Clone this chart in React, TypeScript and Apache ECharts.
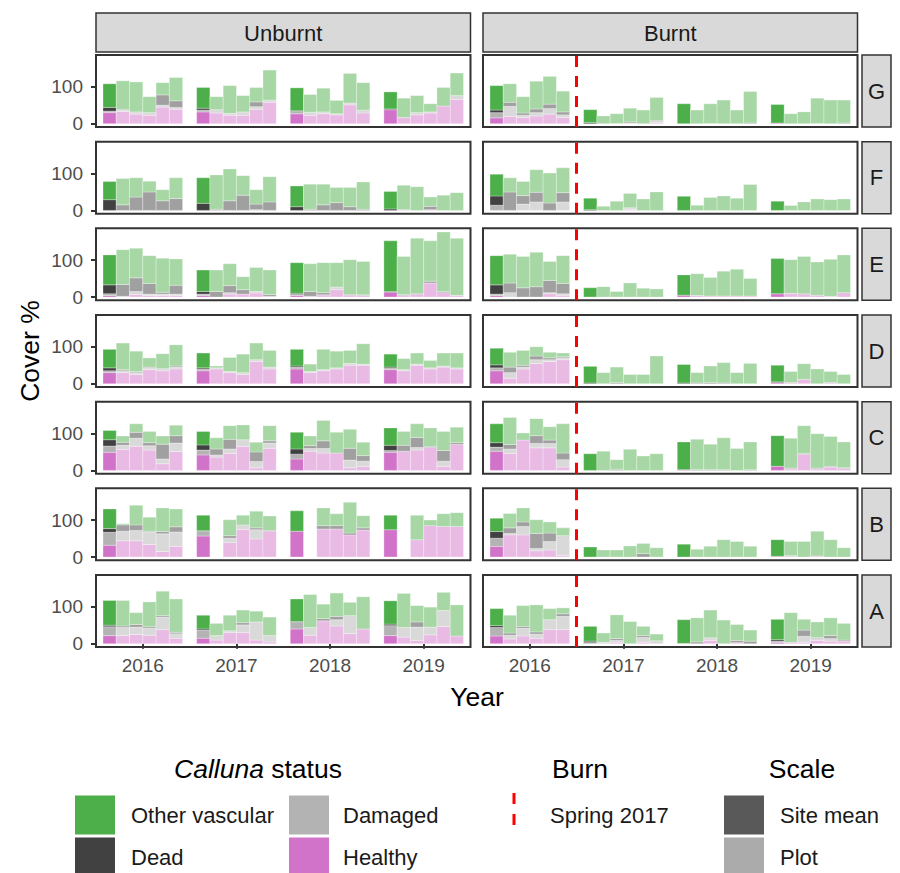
import React, { useEffect, useRef } from 'react';
import * as echarts from 'echarts';

const ROWS = ['G', 'F', 'E', 'D', 'C', 'B', 'A'];
const TREATMENTS = ['Unburnt', 'Burnt'];
const YEARS = [2016, 2017, 2018, 2019];
const Y_TICKS = [0, 100];
const BURN_X = 2016.5;
const BURN_LABEL = 'Spring 2017';
const STATUS = ['Healthy', 'Damaged', 'Dead', 'Other vascular'];

// Each bar: [healthy, damaged, dead, other vascular]; each year: 6 bars
// (site mean first, then 5 plots); null = no data for that plot.
const unburntG = [
  [[30, 4, 10, 64], [33, 4, 2, 77], [26, 6, 0, 81], [23, 7, 0, 43], [45, 5, 28, 33], [39, 5, 18, 63]],
  [[32, 5, 5, 56], [29, 9, 0, 35], [23, 5, 0, 75], [23, 9, 0, 44], [39, 7, 13, 39], [58, 6, 0, 81]],
  [[27, 6, 2, 62], [23, 8, 0, 48], [27, 5, 0, 64], [24, 3, 0, 36], [51, 5, 0, 80], [29, 8, 0, 74]],
  [[38, 0, 2, 46], [17, 0, 0, 52], [24, 6, 0, 46], [29, 3, 0, 22], [48, 0, 0, 50], [66, 10, 0, 61]],
];
const burntG = [
  [[16, 14, 7, 66], [20, 27, 11, 50], [17, 6, 6, 44], [21, 9, 10, 75], [26, 15, 12, 75], [17, 7, 8, 56]],
  [[0, 0, 3, 35], [0, 0, 0, 21], [0, 0, 1, 26], [0, 2, 3, 37], [0, 0, 0, 37], [3, 3, 3, 62]],
  [[0, 0, 0, 54], [0, 0, 0, 37], [0, 0, 1, 53], [0, 0, 0, 64], [0, 0, 0, 37], [0, 0, 2, 85]],
  [[2, 0, 0, 50], [0, 0, 0, 27], [0, 0, 0, 32], [0, 0, 1, 68], [0, 0, 0, 64], [0, 0, 2, 62]],
];
const unburntF = [
  [[0, 0, 29, 49], [0, 0, 15, 71], [0, 0, 36, 52], [0, 0, 50, 29], [0, 0, 26, 30], [0, 0, 32, 56]],
  [[0, 0, 19, 69], [0, 0, 3, 93], [0, 0, 26, 86], [0, 0, 41, 53], [2, 0, 15, 39], [0, 0, 23, 68]],
  [[0, 0, 10, 56], [0, 0, 3, 68], [0, 0, 15, 56], [0, 0, 21, 41], [0, 0, 10, 52], [0, 0, 3, 74]],
  [[0, 0, 4, 47], [2, 0, 0, 66], [0, 0, 0, 64], [2, 0, 9, 25], [0, 0, 0, 41], [0, 0, 0, 48]],
];
const burntF = [
  [[0, 14, 25, 59], [0, 0, 50, 38], [0, 17, 23, 38], [0, 23, 26, 61], [0, 0, 20, 81], [0, 23, 25, 67]],
  [[0, 0, 2, 31], [0, 0, 0, 11], [0, 0, 0, 25], [2, 5, 0, 39], [0, 0, 0, 31], [0, 0, 0, 50]],
  [[0, 0, 0, 38], [0, 0, 0, 14], [0, 0, 0, 35], [0, 0, 0, 39], [0, 0, 0, 33], [0, 0, 0, 70]],
  [[0, 0, 0, 25], [0, 0, 0, 13], [0, 0, 0, 23], [0, 0, 0, 31], [0, 0, 0, 29], [0, 0, 0, 31]],
];
const unburntE = [
  [[4, 5, 24, 81], [0, 2, 32, 94], [7, 8, 37, 80], [4, 4, 29, 75], [4, 4, 5, 92], [4, 4, 24, 71]],
  [[4, 4, 7, 58], [0, 0, 15, 58], [8, 4, 19, 59], [8, 0, 12, 35], [11, 4, 0, 65], [2, 0, 5, 66]],
  [[4, 3, 3, 83], [2, 0, 13, 75], [6, 0, 6, 81], [20, 7, 0, 66], [6, 0, 0, 95], [4, 0, 2, 90]],
  [[13, 0, 2, 137], [4, 0, 3, 103], [7, 0, 3, 149], [38, 0, 5, 109], [12, 0, 3, 161], [4, 0, 1, 154]],
];
const burntE = [
  [[4, 4, 25, 79], [0, 12, 26, 78], [0, 0, 25, 85], [0, 0, 28, 93], [9, 3, 33, 51], [5, 4, 28, 75]],
  [[0, 0, 0, 25], [0, 0, 0, 28], [0, 0, 0, 15], [0, 0, 0, 38], [0, 0, 0, 24], [0, 0, 0, 22]],
  [[5, 0, 0, 55], [4, 0, 0, 59], [3, 0, 0, 50], [3, 0, 0, 67], [3, 0, 0, 72], [3, 0, 0, 47]],
  [[9, 0, 0, 95], [10, 0, 0, 91], [7, 0, 3, 100], [5, 0, 0, 90], [2, 0, 0, 100], [12, 0, 0, 102]],
];
const unburntD = [
  [[30, 5, 8, 50], [30, 5, 3, 72], [25, 5, 3, 55], [38, 5, 2, 25], [35, 4, 2, 40], [40, 5, 3, 57]],
  [[35, 5, 3, 40], [40, 3, 0, 5], [30, 3, 0, 38], [25, 5, 0, 50], [60, 5, 0, 45], [40, 5, 0, 45]],
  [[40, 5, 3, 45], [30, 3, 0, 20], [35, 3, 0, 55], [40, 3, 0, 45], [50, 5, 0, 35], [50, 3, 0, 55]],
  [[38, 4, 3, 35], [35, 3, 0, 30], [50, 3, 0, 30], [40, 3, 0, 20], [45, 3, 0, 35], [40, 3, 0, 40]],
];
const burntD = [
  [[35, 8, 8, 45], [15, 15, 15, 40], [40, 5, 5, 40], [55, 10, 10, 25], [60, 5, 5, 15], [65, 5, 3, 10]],
  [[0, 0, 2, 45], [0, 0, 0, 30], [0, 0, 3, 42], [0, 0, 0, 25], [0, 0, 0, 25], [0, 0, 0, 75]],
  [[0, 0, 2, 50], [0, 0, 2, 28], [0, 0, 3, 45], [0, 0, 2, 55], [0, 0, 0, 30], [0, 0, 0, 55]],
  [[3, 0, 2, 45], [3, 0, 0, 30], [12, 0, 0, 42], [0, 0, 0, 40], [3, 0, 0, 30], [0, 0, 0, 25]],
];
const unburntC = [
  [[49, 17, 17, 25], [57, 11, 8, 17], [65, 22, 16, 23], [55, 12, 8, 30], [18, 13, 40, 22], [51, 23, 20, 28]],
  [[42, 13, 14, 36], [36, 6, 16, 30], [46, 12, 26, 37], [65, 18, 0, 40], [7, 17, 26, 26], [60, 14, 6, 41]],
  [[31, 13, 14, 45], [52, 7, 8, 26], [47, 12, 21, 55], [47, 0, 0, 56], [7, 21, 32, 51], [11, 14, 15, 36]],
  [[49, 5, 14, 47], [52, 0, 16, 37], [55, 7, 27, 37], [62, 0, 3, 50], [11, 14, 29, 51], [70, 0, 5, 42]],
];
const burntC = [
  [[52, 11, 12, 51], [46, 12, 12, 73], [82, 0, 0, 19], [61, 12, 21, 46], [61, 12, 9, 36], [9, 20, 18, 79]],
  [[0, 0, 0, 45], [0, 0, 0, 52], [0, 0, 3, 26], [0, 0, 0, 57], [0, 0, 0, 39], [0, 0, 0, 45]],
  [[2, 0, 0, 75], [0, 0, 2, 82], [0, 0, 2, 69], [0, 0, 2, 86], [0, 0, 0, 59], [0, 0, 2, 75]],
  [[11, 0, 0, 83], [4, 0, 2, 81], [44, 0, 2, 75], [4, 0, 2, 93], [9, 0, 2, 81], [5, 0, 2, 70]],
];
const unburntB = [
  [[32, 35, 10, 53], [44, 26, 17, 3], [44, 28, 15, 53], [34, 34, 2, 38], [15, 48, 6, 64], [29, 39, 14, 48]],
  [[57, 14, 0, 42], null, [39, 12, 7, 43], [75, 12, 0, 26], [49, 25, 5, 45], [71, 0, 0, 40]],
  [[70, 0, 0, 55], null, [76, 0, 9, 48], [76, 0, 9, 32], [60, 0, 5, 83], [73, 0, 6, 33]],
  [[74, 0, 0, 39], null, [47, 0, 0, 66], [85, 0, 0, 15], [83, 0, 0, 34], [83, 0, 0, 37]],
];
const burntB = [
  [[29, 22, 18, 36], [60, 4, 15, 39], [60, 23, 12, 38], [17, 6, 41, 37], [19, 23, 23, 30], [4, 54, 0, 21]],
  [[0, 0, 0, 27], [0, 0, 0, 19], [0, 0, 0, 19], [0, 0, 0, 30], [0, 0, 10, 27], [0, 0, 0, 25]],
  [[0, 0, 0, 35], [0, 0, 0, 21], [0, 0, 0, 29], [0, 0, 0, 47], [0, 0, 0, 42], [0, 0, 0, 29]],
  [[2, 0, 0, 45], [2, 0, 2, 38], [0, 0, 0, 42], [3, 0, 0, 67], [0, 0, 0, 47], [0, 0, 0, 25]],
];
const unburntA = [
  [[22, 24, 4, 67], [22, 22, 4, 69], [25, 20, 7, 32], [23, 19, 4, 67], [38, 34, 4, 66], [15, 12, 4, 90]],
  [[15, 22, 3, 37], [10, 12, 0, 33], [30, 5, 0, 42], [30, 21, 6, 34], [10, 49, 0, 29], [5, 17, 0, 50]],
  [[40, 18, 2, 61], [23, 21, 0, 89], [62, 0, 6, 39], [48, 17, 9, 63], [28, 48, 0, 36], [40, 0, 0, 87]],
  [[22, 27, 4, 63], [18, 26, 0, 92], [9, 36, 14, 44], [24, 21, 0, 54], [47, 43, 0, 49], [21, 0, 0, 84]],
];
const burntA = [
  [[21, 23, 5, 46], [13, 10, 6, 48], [21, 21, 5, 56], [15, 11, 6, 73], [38, 27, 0, 30], [38, 36, 7, 16]],
  [[0, 3, 4, 40], [0, 4, 0, 25], [4, 5, 5, 64], [0, 0, 0, 60], [4, 13, 5, 25], [0, 8, 0, 18]],
  [[1, 0, 0, 64], [0, 0, 5, 65], [9, 7, 0, 75], [0, 0, 0, 64], [3, 0, 6, 43], [0, 0, 7, 30]],
  [[3, 4, 4, 55], [4, 0, 0, 80], [4, 16, 17, 29], [9, 5, 3, 42], [7, 7, 8, 48], [7, 0, 3, 45]],
];

const PANEL_DATA: Record<string, any[]> = {
  'Unburnt-G': unburntG, 'Burnt-G': burntG,
  'Unburnt-F': unburntF, 'Burnt-F': burntF,
  'Unburnt-E': unburntE, 'Burnt-E': burntE,
  'Unburnt-D': unburntD, 'Burnt-D': burntD,
  'Unburnt-C': unburntC, 'Burnt-C': burntC,
  'Unburnt-B': unburntB, 'Burnt-B': burntB,
  'Unburnt-A': unburntA, 'Burnt-A': burntA,
};

// Styling / layout
const FONT = '"Liberation Sans", Arial, sans-serif';
const FULL = ['#D174C9', '#B3B3B3', '#414141', '#4DAF4A'];
const FADED = ['#E8BAE4', '#D9D9D9', '#A0A0A0', '#A6D7A4'];
const PANEL_LEFT = [96, 483];
const PANEL_W = 374.5;
const PANEL_TOP0 = 55;
const PANEL_H = 72;
const ROW_PITCH = 86.67;
const X_MIN = 2015.5;
const X_MAX = 2019.5;
const BAR_STEP = 0.1417;
const Y_MIN = -8.85;
const Y_MAX = 185.85;
const BORDER = '#333333';
const AXIS_TEXT = 19;
const STRIP_TEXT = 22;
const LEGEND_TEXT = 22;
const TITLE_TEXT = 26.5;

function buildOption() {
  const grids: any[] = [];
  const xAxes: any[] = [];
  const yAxes: any[] = [];
  const series: any[] = [];
  const graphics: any[] = [];

  ROWS.forEach((row, r) => {
    TREATMENTS.forEach((tr, c) => {
      const k = r * 2 + c;
      const top = PANEL_TOP0 + r * ROW_PITCH;
      const isBottom = r === ROWS.length - 1;
      grids.push({
        left: PANEL_LEFT[c], top, width: PANEL_W, height: PANEL_H,
        show: true, borderColor: BORDER, borderWidth: 2, backgroundColor: '#ffffff',
      });
      xAxes.push({
        type: 'value', gridIndex: k, min: X_MIN, max: X_MAX,
        axisLine: { show: false }, splitLine: { show: false },
        axisTick: { show: isBottom, customValues: YEARS, length: 5, lineStyle: { color: BORDER, width: 2 } },
        axisLabel: {
          show: isBottom, customValues: YEARS, fontSize: AXIS_TEXT, color: '#4D4D4D', margin: 9,
          fontFamily: FONT, formatter: (v: number) => String(v),
        },
      });
      yAxes.push({
        type: 'value', gridIndex: k, min: Y_MIN, max: Y_MAX,
        axisLine: { show: false }, splitLine: { show: false },
        axisTick: { show: c === 0, customValues: Y_TICKS, length: 5, lineStyle: { color: BORDER, width: 2 } },
        axisLabel: {
          show: c === 0, customValues: Y_TICKS, fontSize: AXIS_TEXT, color: '#4D4D4D', margin: 13,
          fontFamily: FONT, formatter: (v: number) => String(v),
        },
      });

      // stacked segments: [x, base, top, statusIndex, isSiteMean]
      const panel = PANEL_DATA[`${tr}-${row}`];
      const segs: number[][] = [];
      YEARS.forEach((yr, yi) => {
        panel[yi].forEach((bar: number[] | null, i: number) => {
          if (!bar) return;
          const x = yr + (i - 2.5) * BAR_STEP;
          let base = 0;
          bar.forEach((v, s) => {
            if (v > 0) segs.push([x, base, base + v, s, i === 0 ? 1 : 0]);
            base += v;
          });
        });
      });
      series.push({
        type: 'custom', name: `${tr} ${row}`, xAxisIndex: k, yAxisIndex: k,
        coordinateSystem: 'cartesian2d', clip: true, silent: true,
        encode: { x: 0, y: [1, 2] },
        data: segs,
        renderItem: (params: any, api: any) => {
          const x = api.value(0);
          const a = api.coord([x, api.value(1)]);
          const b = api.coord([x, api.value(2)]);
          const w = api.size([BAR_STEP, 0])[0];
          const s = api.value(3);
          const site = api.value(4);
          return {
            type: 'rect',
            shape: { x: a[0] - w / 2, y: b[1], width: w, height: a[1] - b[1] },
            style: { fill: site ? FULL[s] : FADED[s], stroke: 'rgba(255,255,255,0.5)', lineWidth: 0.6 },
          };
        },
      });
      if (c === 1) {
        series.push({
          type: 'line', xAxisIndex: k, yAxisIndex: k, data: [], silent: true,
          markLine: {
            silent: true, symbol: 'none', label: { show: false },
            lineStyle: { color: '#FF0000', type: [11, 9], width: 3 },
            data: [{ xAxis: BURN_X }],
          },
        });
        // right strips
        graphics.push({
          type: 'rect', shape: { x: 862, y: top, width: 29, height: PANEL_H },
          style: { fill: '#D9D9D9', stroke: BORDER, lineWidth: 1.5 },
        });
        graphics.push({
          type: 'text', x: 876.5, y: top + PANEL_H / 2,
          style: { text: row, fontSize: STRIP_TEXT, fill: '#1A1A1A', align: 'center', verticalAlign: 'middle', fontFamily: FONT },
        });
      }
    });
  });

  // top strips
  TREATMENTS.forEach((tr, c) => {
    graphics.push({
      type: 'rect', shape: { x: PANEL_LEFT[c], y: 13, width: PANEL_W, height: 39 },
      style: { fill: '#D9D9D9', stroke: BORDER, lineWidth: 1.5 },
    });
    graphics.push({
      type: 'text', x: PANEL_LEFT[c] + PANEL_W / 2, y: 33,
      style: { text: tr, fontSize: STRIP_TEXT, fill: '#1A1A1A', align: 'center', verticalAlign: 'middle', fontFamily: FONT },
    });
  });

  // axis titles
  graphics.push({
    type: 'text', x: 30, y: 351, rotation: Math.PI / 2,
    style: { text: 'Cover %', fontSize: TITLE_TEXT, fill: '#000', align: 'center', verticalAlign: 'middle', fontFamily: FONT },
  });
  graphics.push({
    type: 'text', x: 477, y: 697,
    style: { text: 'Year', fontSize: TITLE_TEXT, fill: '#000', align: 'center', verticalAlign: 'middle', fontFamily: FONT },
  });

  // legends
  const TITLE_Y = 769;
  const ROW_Y = [815, 857];
  const KEY = 39;
  const legendText = (x: number, y: number, t: string) => ({
    type: 'text', x, y,
    style: { text: t, fontSize: LEGEND_TEXT, fill: '#1A1A1A', align: 'left', verticalAlign: 'middle', fontFamily: FONT },
  });
  const key = (x: number, y: number, fill: string) => ({
    type: 'rect', shape: { x, y: y - KEY / 2, width: 40, height: KEY }, style: { fill },
  });
  graphics.push({
    type: 'text', x: 258, y: TITLE_Y,
    style: {
      text: '{i|Calluna} status', fontSize: TITLE_TEXT, fill: '#000', align: 'center', verticalAlign: 'middle', fontFamily: FONT,
      rich: { i: { fontStyle: 'italic', fontSize: TITLE_TEXT, fontFamily: FONT, fill: '#000' } },
    },
  });
  graphics.push(key(75, ROW_Y[0], FULL[3]), legendText(131, ROW_Y[0], STATUS[3]));
  graphics.push(key(75, ROW_Y[1], FULL[2]), legendText(131, ROW_Y[1], STATUS[2]));
  graphics.push(key(289, ROW_Y[0], FULL[1]), legendText(343, ROW_Y[0], STATUS[1]));
  graphics.push(key(289, ROW_Y[1], FULL[0]), legendText(343, ROW_Y[1], STATUS[0]));

  graphics.push({
    type: 'text', x: 580, y: TITLE_Y,
    style: { text: 'Burn', fontSize: TITLE_TEXT, fill: '#000', align: 'center', verticalAlign: 'middle', fontFamily: FONT },
  });
  graphics.push({
    type: 'line', shape: { x1: 514, y1: ROW_Y[0] - 22, x2: 514, y2: ROW_Y[0] + 20 },
    style: { stroke: '#FF0000', lineWidth: 3, lineDash: [11, 10] },
  });
  graphics.push(legendText(550, ROW_Y[0], BURN_LABEL));

  graphics.push({
    type: 'text', x: 802, y: TITLE_Y,
    style: { text: 'Scale', fontSize: TITLE_TEXT, fill: '#000', align: 'center', verticalAlign: 'middle', fontFamily: FONT },
  });
  graphics.push(key(724, ROW_Y[0], '#595959'), legendText(780, ROW_Y[0], 'Site mean'));
  graphics.push(key(724, ROW_Y[1], '#ABABAB'), legendText(780, ROW_Y[1], 'Plot'));

  return {
    animation: false,
    backgroundColor: '#ffffff',
    textStyle: { fontFamily: FONT },
    grid: grids,
    xAxis: xAxes,
    yAxis: yAxes,
    series,
    graphic: graphics,
  };
}

export default function App() {
  const ref = useRef<HTMLDivElement>(null);
  useEffect(() => {
    document.body.style.margin = '0';
    if (!ref.current) return;
    const chart = echarts.init(ref.current, null, { renderer: 'svg' });
    chart.setOption(buildOption() as any);
    return () => chart.dispose();
  }, []);
  return <div ref={ref} style={{ width: 900, height: 873 }} />;
}
